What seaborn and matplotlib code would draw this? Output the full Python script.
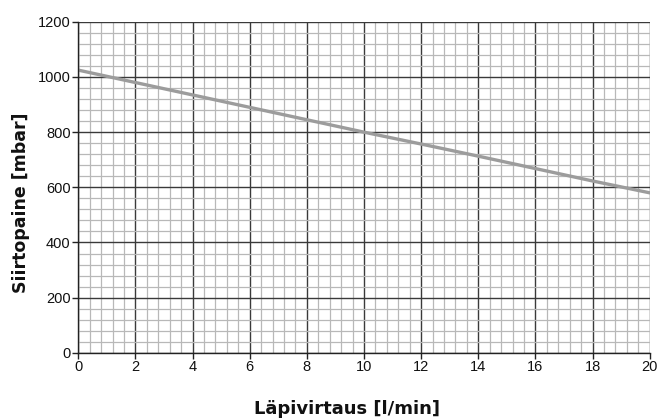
import matplotlib
matplotlib.use("Agg")
import matplotlib.pyplot as plt
import seaborn as sns
import numpy as np
import pandas as pd
from matplotlib.ticker import MultipleLocator

flow = [0, 2, 4, 6, 8, 10, 12, 14, 16, 18, 20]
pressure = [1025, 980, 935, 890, 845, 800, 757, 713, 668, 623, 580]
x_ticks = [0, 2, 4, 6, 8, 10, 12, 14, 16, 18, 20]
y_ticks = [0, 200, 400, 600, 800, 1000, 1200]

df = pd.DataFrame({"flow": flow, "pressure": pressure})

sns.set_theme(style="white")
plt.rcParams['font.family'] = ['Liberation Sans', 'DejaVu Sans']

fig = plt.figure(figsize=(6.63, 4.2), dpi=100)
ax = fig.add_axes([0.118, 0.160, 0.862, 0.788])

ax.set_xlim(0, 20)
ax.set_ylim(0, 1200)
ax.set_xticks(x_ticks)
ax.set_yticks(y_ticks)
ax.xaxis.set_minor_locator(MultipleLocator(0.4))
ax.yaxis.set_minor_locator(MultipleLocator(40))
ax.grid(which="minor", color="#b8b8b8", linewidth=0.9)
ax.grid(which="major", color="#3a3a3a", linewidth=1.0)
ax.set_axisbelow(True)

sns.lineplot(data=df, x="flow", y="pressure", ax=ax, color="#9c9c9c", linewidth=2.4)

for s in ["top", "right"]:
    ax.spines[s].set_visible(False)
for s in ["left", "bottom"]:
    ax.spines[s].set_color("#222222")
    ax.spines[s].set_linewidth(1.0)

ax.tick_params(axis="both", which="major", direction="out", length=4, width=1,
               color="#222222", labelsize=10.5, labelcolor="#111111", pad=1.5)
ax.tick_params(axis="both", which="minor", length=0)
ax.tick_params(axis="x", bottom=True)
ax.tick_params(axis="y", left=True)

ax.set_xlabel("Läpivirtaus [l/min]", fontsize=13, fontweight="bold",
              color="#111111", family=['DejaVu Sans'])
ax.set_ylabel("Siirtopaine [mbar]", fontsize=12.5, fontweight="bold",
              color="#111111", family=['DejaVu Sans'])
ax.xaxis.set_label_coords(0.47, -0.142)
ax.yaxis.set_label_coords(-0.084, 0.453)

fig.savefig("out.png", dpi=100)
